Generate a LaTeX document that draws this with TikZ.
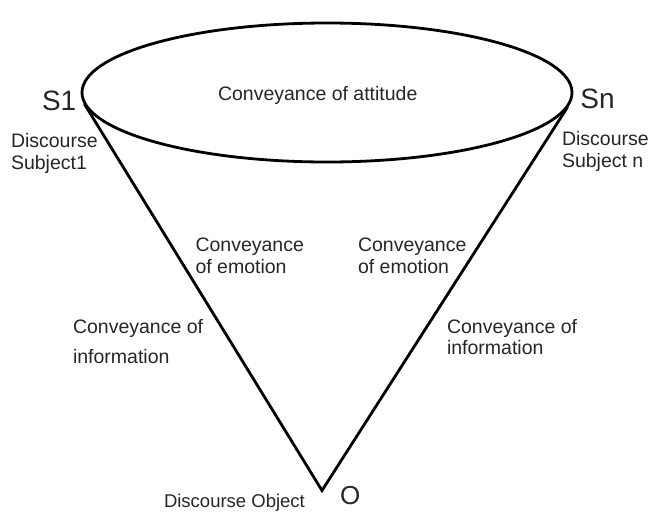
\documentclass[tikz,border=0pt]{standalone}
\usepackage{fontspec}
\setmainfont{Liberation Sans}
\usetikzlibrary{shapes.geometric}
\begin{document}
\begin{tikzpicture}[x=1pt,y=-1pt,
  stroke/.style={line width=2.8pt, draw=black},
  lbl/.style={inner sep=0pt, outer sep=0pt, align=left, anchor=base west, text=black!85, font=\fontsize{19.5}{21.6}\selectfont},
  biglbl/.style={inner sep=0pt, outer sep=0pt, anchor=base west, text=black!85, font=\fontsize{28}{30}\selectfont}]
\useasboundingbox (0,0) rectangle (651,512);
% ellipse (top of the cone)
\node[stroke, ellipse, inner sep=0pt, minimum width=490pt, minimum height=139pt] (cone) at (327,92.5) {};
% cone sides
\coordinate (s1) at (84.4,104);
\coordinate (sn) at (567.6,107);
\coordinate (tip) at (322,490.5);
\draw[stroke, line join=miter] (s1) -- (tip) -- (sn);
% labels (multi-line nodes: base = baseline of last line)
\node[lbl] (att) at (218,100.5) {Conveyance of attitude};
\node[biglbl] (S1) at (42,110) {S1};
\node[biglbl] (Sn) at (580.4,108) {Sn};
\node[lbl] (ds1) at (11,169) {Discourse\\Subject1};
\node[lbl] (dsn) at (562,167.5) {Discourse\\Subject n};
\node[lbl] (emol) at (195.5,273.3) {Conveyance\\of emotion};
\node[lbl] (emor) at (358,273.3) {Conveyance\\of emotion};
\node[lbl] (infol) at (73,363.3) {Conveyance of\\[8.4pt]information};
\node[lbl] (infor) at (447,354.9) {Conveyance of\\information};
\node[lbl, font=\fontsize{18.5}{20}\selectfont] (obj) at (164,507) {Discourse Object};
\node[lbl, font=\fontsize{26}{28}\selectfont] (O) at (340,504) {O};
\end{tikzpicture}
\end{document}
